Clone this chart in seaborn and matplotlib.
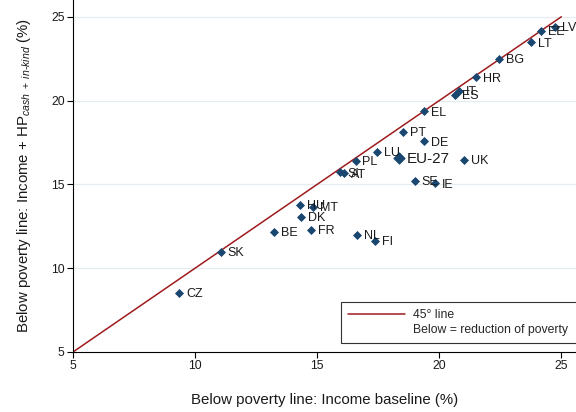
import matplotlib
matplotlib.use("Agg")
import matplotlib.pyplot as plt
from matplotlib.lines import Line2D
import seaborn as sns
import pandas as pd

# Share of population below the poverty line, by country
countries = ["LV", "EE", "LT", "BG", "HR", "IT", "ES", "EL", "PT", "DE",
             "LU", "UK", "PL", "SI", "AT", "SE", "IE", "HU", "MT", "DK",
             "BE", "FR", "NL", "FI", "SK", "CZ"]
income_baseline = [24.75, 24.15, 23.75, 22.45, 21.5, 20.8, 20.65, 19.37, 18.5, 19.37,
                   17.45, 21.03, 16.57, 15.95, 16.1, 18.99, 19.83, 14.28, 14.83, 14.33,
                   13.22, 14.76, 16.64, 17.35, 11.05, 9.34]
income_hp = [24.4, 24.15, 23.47, 22.5, 21.38, 20.6, 20.34, 19.35, 18.15, 17.56,
             16.94, 16.46, 16.42, 15.72, 15.65, 15.21, 15.07, 13.78, 13.68, 13.08,
             12.16, 12.28, 11.99, 11.65, 10.99, 8.52]

eu_label = "EU-27"
eu_baseline = 18.37
eu_hp = 16.57

ticks = [5, 10, 15, 20, 25]
diag = [5, 25]

navy = "#1a476f"
red = "#9e1b1e"

sns.set_style("white")
plt.rcParams["font.family"] = ["Liberation Sans", "DejaVu Sans"]
plt.rcParams["mathtext.fontset"] = "custom"
plt.rcParams["mathtext.rm"] = "Liberation Sans"
plt.rcParams["mathtext.it"] = "Liberation Sans:italic"

df = pd.DataFrame({"country": countries, "baseline": income_baseline, "hp": income_hp})

fig = plt.figure(figsize=(5.76, 4.12), dpi=100)
ax = fig.add_axes([73 / 576, 60 / 412, 503 / 576, 352 / 412])

for y in ticks[1:]:
    ax.axhline(y, color="#e4ecf0", lw=0.9, zorder=0)

sns.lineplot(x=diag, y=diag, ax=ax, color=red, lw=1.1, zorder=2)

sns.scatterplot(data=df, x="baseline", y="hp", ax=ax, marker="D", s=16,
                color=navy, edgecolor=navy, linewidth=0.6, zorder=3)
sns.scatterplot(x=[eu_baseline], y=[eu_hp], ax=ax, marker="D", s=34,
                color=navy, edgecolor=navy, linewidth=0.6, zorder=3)

for name, xv, yv in zip(countries, income_baseline, income_hp):
    ax.annotate(name, (xv, yv), xytext=(5, -1), textcoords="offset points",
                va="center", ha="left", fontsize=9, color="#1a1a1a", zorder=4)
ax.annotate(eu_label, (eu_baseline, eu_hp), xytext=(5, -1), textcoords="offset points",
            va="center", ha="left", fontsize=11, color="#1a1a1a", zorder=4)

ax.set_xlim(5, 25.6)
ax.set_ylim(5, 26.0)
ax.set_xticks(ticks)
ax.set_yticks(ticks)
ax.tick_params(axis="both", direction="out", length=4, width=0.8, color="black",
               labelsize=8.8, labelcolor="#1a1a1a", pad=2, left=True, bottom=True)
for side in ("top", "right"):
    ax.spines[side].set_visible(False)
for side in ("left", "bottom"):
    ax.spines[side].set_color("black")
    ax.spines[side].set_linewidth(0.8)

ax.set_xlabel("Below poverty line: Income baseline (%)", fontsize=10.8,
              color="#1a1a1a", labelpad=15)
ax.set_ylabel(r"Below poverty line: Income + HP$_{cash\ +\ in\text{-}kind}$ (%)",
              fontsize=10.8, color="#1a1a1a", labelpad=13)

handles = [Line2D([], [], color=red, lw=1.1), Line2D([], [], color="none")]
labels = ["45° line", "Below = reduction of poverty"]
leg = ax.legend(handles, labels, loc="lower left",
                bbox_to_anchor=(341 / 576, 69 / 412, 260 / 576, 41 / 412),
                bbox_transform=fig.transFigure, mode="expand", borderaxespad=0,
                fontsize=8.8, handlelength=4.6, handletextpad=0.7,
                labelspacing=0.2, borderpad=0.6, fancybox=False, framealpha=1)
leg.get_frame().set_edgecolor("#333333")
leg.get_frame().set_linewidth(0.8)

fig.savefig("out.png", dpi=100)
